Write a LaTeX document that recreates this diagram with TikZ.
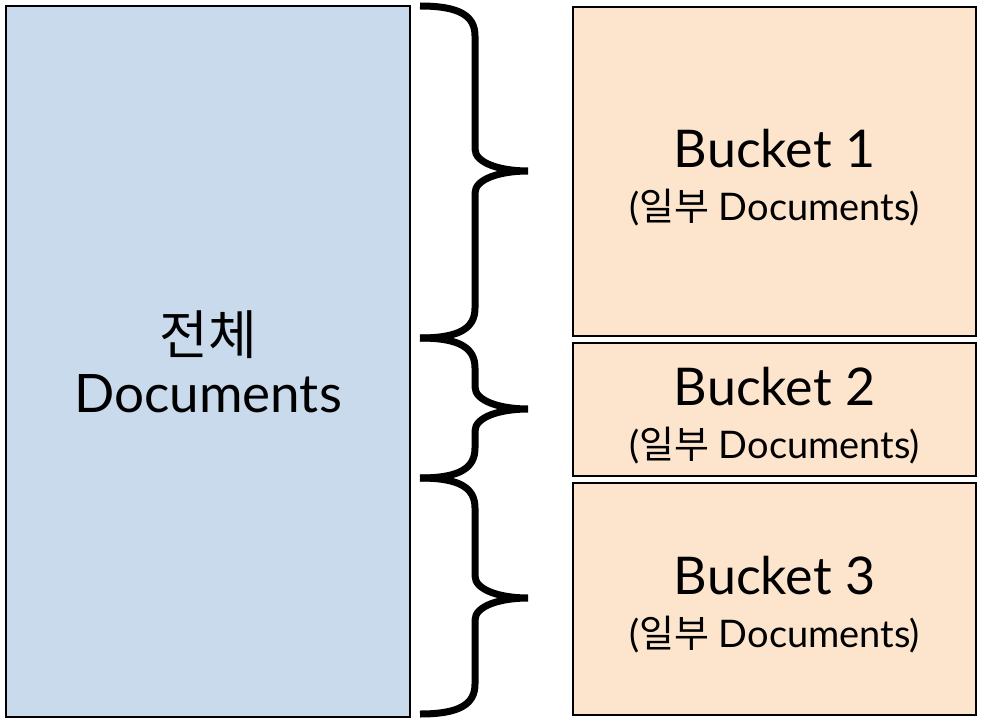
\documentclass[tikz,border=0pt]{standalone}
\usepackage{fontspec}
\setmainfont{Lato}
\newfontfamily\krfont{Noto Sans CJK KR}
\usetikzlibrary{positioning}
\definecolor{wholeblue}{RGB}{201,218,236}
\definecolor{bucketpeach}{RGB}{253,229,205}
\tikzset{
    whole/.style={rectangle, draw=black, fill=wholeblue, line width=2pt, inner sep=0pt, minimum width=404pt, minimum height=711pt, align=center, font=\fontsize{53}{58}\selectfont},
    bucket/.style={rectangle, draw=black, fill=bucketpeach, line width=2pt, inner sep=0pt, minimum width=403pt, align=center, font=\fontsize{52}{53}\selectfont},
    curly/.style={line width=7pt, black},
}
\newcommand{\bucketlabel}[1]{\rule{0pt}{50pt}Bucket #1\\\fontsize{38}{53}\selectfont ({\krfont 일부} Documents)}

\begin{document}
\begin{tikzpicture}[x=1pt, y=-1pt]
    \useasboundingbox (0,0) rectangle (982,722);
    \node [whole] (all) at (208,361.5) {{\krfont 전체}\\Documents};
    \node [bucket, minimum height=329pt] (b1) at (774.5,171.5) {\bucketlabel{1}};
    \node [bucket, minimum height=133pt] (b2) [below=5pt of b1] {\bucketlabel{2}};
    \node [bucket, minimum height=232pt] (b3) [below=5pt of b2] {\bucketlabel{3}};
    % braces: top, tip, bottom
    \foreach \t/\m/\b in {6/171/338, 338/409/478, 478/598/714}{
        \draw [curly] (420,\t) .. controls (460,\t) and (475,\t+10) .. (475,\t+30)
            -- (475,\m-22) .. controls (475,\m-8) and (500,\m) .. (528,\m)
            .. controls (500,\m) and (475,\m+8) .. (475,\m+22)
            -- (475,\b-30) .. controls (475,\b-10) and (460,\b) .. (420,\b);
    }
\end{tikzpicture}
\end{document}
